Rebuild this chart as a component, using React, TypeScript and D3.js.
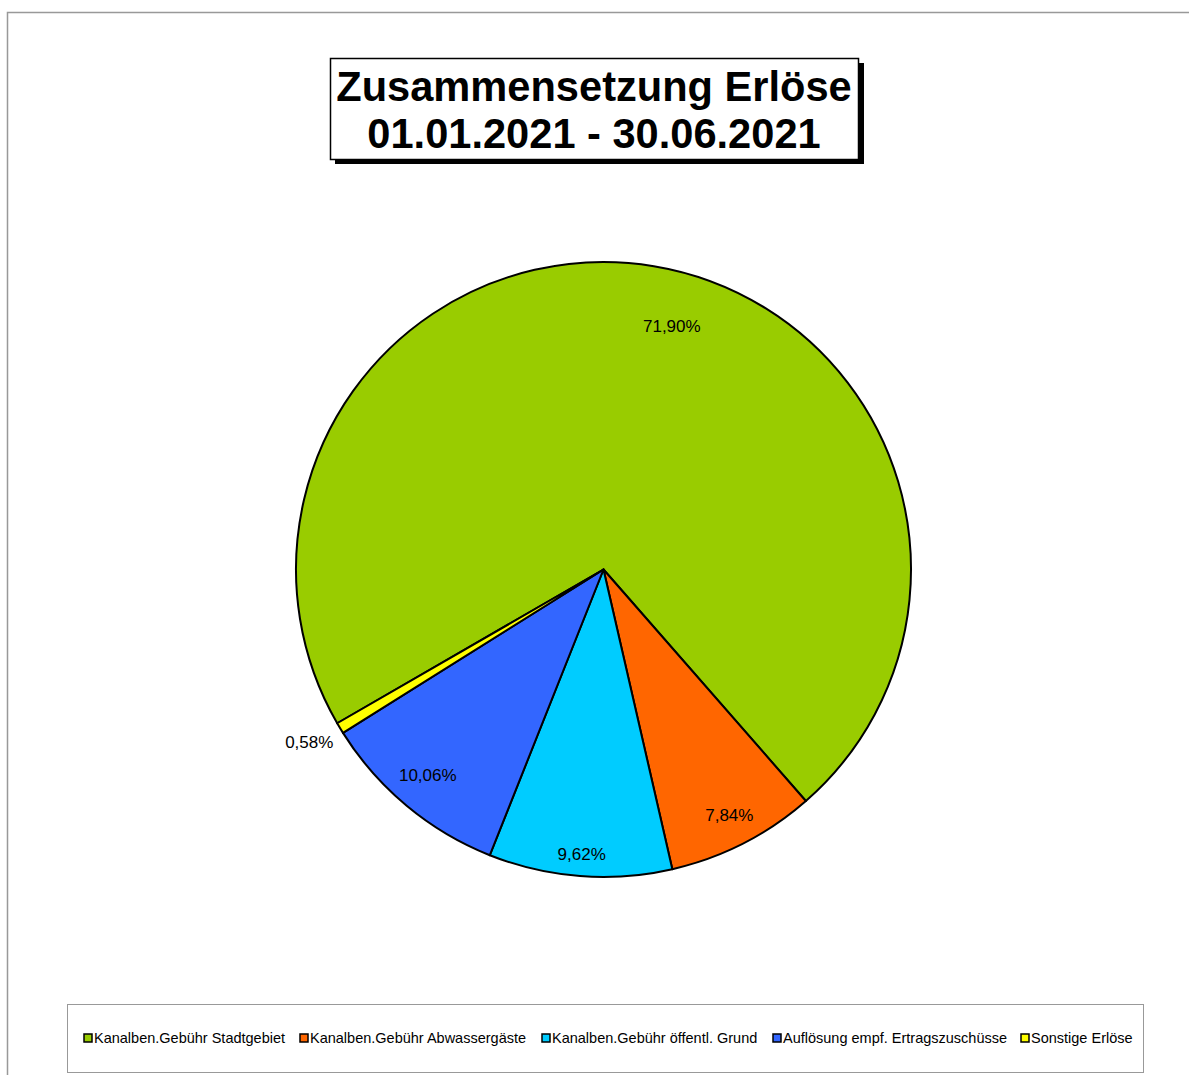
import React from "react";
import * as d3 from "d3";

const categories = [
  "Kanalben.Gebühr Stadtgebiet",
  "Kanalben.Gebühr Abwassergäste",
  "Kanalben.Gebühr öffentl. Grund",
  "Auflösung empf. Ertragszuschüsse",
  "Sonstige Erlöse",
];
const values = [71.9, 7.84, 9.62, 10.06, 0.58];
const valueLabels = ["71,90%", "7,84%", "9,62%", "10,06%", "0,58%"];
const colors = ["#99CC00", "#FF6600", "#00CCFF", "#3366FF", "#FFFF00"];
const titleLines = ["Zusammensetzung Erlöse", "01.01.2021 - 30.06.2021"];

// label layout: radius factor and angle shift (degrees)
const labelLayout = [
  { r: 0.82, da: 6.3 },
  { r: 0.9, da: 0 },
  { r: 0.93, da: 0 },
  { r: 0.88, da: 0.7 },
  { r: 1.11, da: 0.6 },
];
const legendX = [84, 300, 542, 773, 1021];

export default function App() {
  const W = 1189;
  const H = 1075;
  const cx = 603.5;
  const cy = 569.5;
  const R = 307.5;
  const startDeg = 240;
  const toRad = (d: number) => (d * Math.PI) / 180;

  const pie = d3
    .pie<number>()
    .sort(null)
    .value((d) => d)
    .startAngle(toRad(startDeg))
    .endAngle(toRad(startDeg + 360));
  const arcs = pie(values);
  const arc = d3.arc<d3.PieArcDatum<number>>().innerRadius(0).outerRadius(R);

  return (
    <svg
      width={W}
      height={H}
      style={{ position: "absolute", left: 0, top: 0 }}
      fontFamily="'Liberation Sans', Arial, sans-serif"
    >
      <rect x={0} y={0} width={W} height={H} fill="#fff" />
      <rect x={7.5} y={12.5} width={1200} height={1100} fill="#fff" stroke="#999" strokeWidth={1.5} />

      {/* title */}
      <rect x={335} y={63} width={529} height={101} fill="#000" />
      <rect x={330.5} y={58.5} width={528} height={101} fill="#fff" stroke="#000" strokeWidth={1.5} />
      {titleLines.map((t, i) => (
        <text
          key={i}
          x={594}
          y={101 + i * 47}
          textAnchor="middle"
          fontWeight="bold"
          fontSize={41.6}
          fill="#000"
        >
          {t}
        </text>
      ))}

      {/* pie */}
      <g transform={`translate(${cx},${cy})`}>
        {arcs.map((a, i) => (
          <path key={i} d={arc(a) || ""} fill={colors[i]} stroke="#000" strokeWidth={2} strokeLinejoin="round" />
        ))}
        {arcs.map((a, i) => {
          const mid = (a.startAngle + a.endAngle) / 2 + toRad(labelLayout[i].da);
          const rr = R * labelLayout[i].r;
          const x = Math.sin(mid) * rr;
          const y = -Math.cos(mid) * rr;
          return (
            <text key={i} x={x} y={y} textAnchor="middle" dominantBaseline="central" fontSize={17} fill="#000">
              {valueLabels[i]}
            </text>
          );
        })}
      </g>

      {/* legend */}
      <rect x={67.5} y={1004.5} width={1076} height={68} fill="#fff" stroke="#999" strokeWidth={1} />
      {categories.map((c, i) => (
        <g key={i}>
          <rect x={legendX[i]} y={1034} width={8} height={8} fill={colors[i]} stroke="#000" strokeWidth={1.5} />
          <text x={legendX[i] + 10} y={1043} fontSize={14.5} fill="#000">
            {c}
          </text>
        </g>
      ))}
    </svg>
  );
}
